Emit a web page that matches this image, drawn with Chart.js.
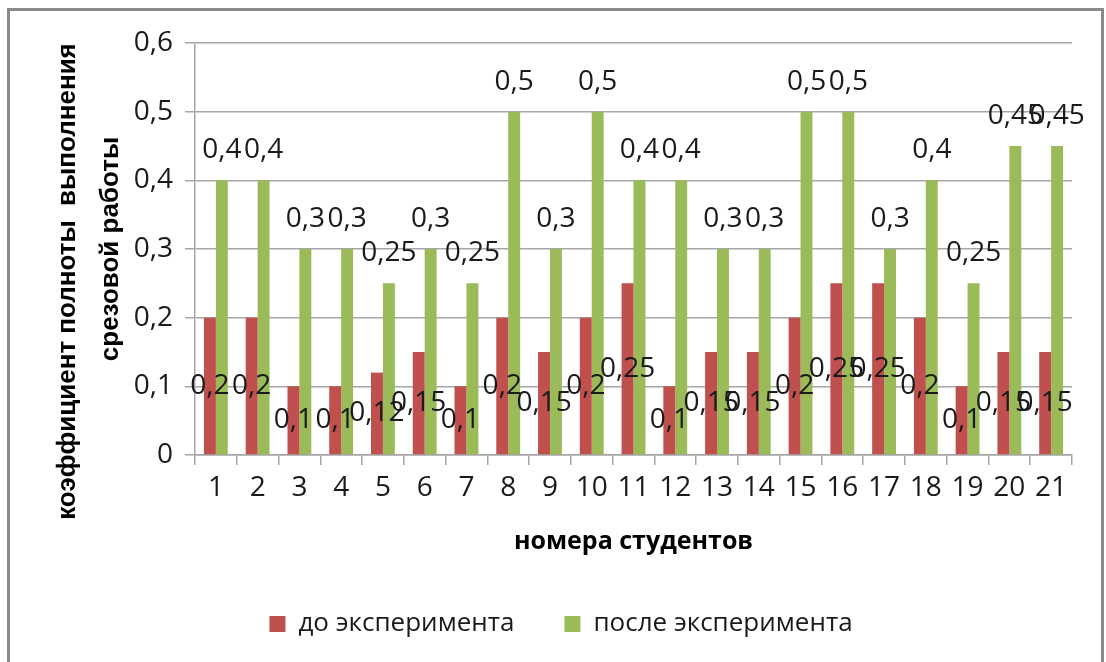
<!DOCTYPE html>
<html lang="ru">
<head>
<meta charset="utf-8">
<title>Коэффициент полноты выполнения срезовой работы</title>
<script src="https://cdn.jsdelivr.net/npm/chart.js@4.4.0/dist/chart.umd.min.js"></script>
<style>
    html, body { margin: 0; padding: 0; background: #fff; overflow: hidden; }
    #frame {
        position: absolute;
        left: 7px; top: 8px;
        width: 1091px; height: 660px;
        border: 3px solid #8a8a8a;
        background: #fff;
    }
    #chart { display: block; }
</style>
</head>
<body>
<div id="frame">
    <canvas id="chart" width="1091" height="651"></canvas>
</div>
<script>
// данные диаграммы
const students = ['1', '2', '3', '4', '5', '6', '7', '8', '9', '10', '11', '12', '13', '14', '15', '16', '17', '18', '19', '20', '21'];
const beforeValues = [0.2, 0.2, 0.1, 0.1, 0.12, 0.15, 0.1, 0.2, 0.15, 0.2, 0.25, 0.1, 0.15, 0.15, 0.2, 0.25, 0.25, 0.2, 0.1, 0.15, 0.15];
const afterValues = [0.4, 0.4, 0.3, 0.3, 0.25, 0.3, 0.25, 0.5, 0.3, 0.5, 0.4, 0.4, 0.3, 0.3, 0.5, 0.5, 0.3, 0.4, 0.25, 0.45, 0.45];
const seriesNames = ['до эксперимента', 'после эксперимента'];
const xTitle = 'номера студентов';
// в оригинале первая строка смещена вниз - хвостовые пробелы дают тот же сдвиг
const yTitle = ['коэффициент полноты  выполнения         ', 'срезовой работы'];

const RED = '#C0504D';
const GREEN = '#9BBB59';
const GRID = '#a6a6a6';
const FONT = "'Open Sans', 'Noto Sans', sans-serif";

function fmt(v) {
    return String(v).replace('.', ',');
}

// подписи значений: красные - в центре столбца, зелёные - над столбцом
const valueLabels = {
    id: 'valueLabels',
    afterDatasetsDraw(chart) {
        const ctx = chart.ctx;
        ctx.save();
        ctx.font = '28px ' + FONT;
        ctx.fillStyle = '#1a1a1a';
        ctx.textAlign = 'center';
        ctx.textBaseline = 'middle';
        chart.data.datasets.forEach((ds, i) => {
            const meta = chart.getDatasetMeta(i);
            meta.data.forEach((bar, j) => {
                const y = i === 0 ? (bar.y + bar.base) / 2 : bar.y - 30;
                ctx.fillText(fmt(ds.data[j]), bar.x, y);
            });
        });
        ctx.restore();
    }
};

const ctx = document.getElementById('chart').getContext('2d');
new Chart(ctx, {
    type: 'bar',
    data: {
        labels: students,
        datasets: [
            { label: seriesNames[0], data: beforeValues, backgroundColor: RED },
            { label: seriesNames[1], data: afterValues, backgroundColor: GREEN }
        ]
    },
    options: {
        responsive: false,
        animation: false,
        // левый отступ сдвигает легенду к центру рамки
        layout: { padding: { top: 32, right: 29, bottom: 15, left: 40 } },
        datasets: {
            bar: { categoryPercentage: 0.571, barPercentage: 1 }
        },
        scales: {
            x: {
                grid: { drawOnChartArea: false, color: GRID, tickLength: 10, lineWidth: 1.5 },
                border: { color: GRID, width: 1.5 },
                ticks: { color: '#1a1a1a', font: { family: FONT, size: 28 }, padding: 6, maxRotation: 0, autoSkip: false },
                title: {
                    display: true, text: xTitle, color: '#000',
                    font: { family: FONT, size: 25, weight: 'bold' },
                    padding: { top: 0, bottom: 4 }
                },
                afterFit(scale) { scale.height = 106; }
            },
            y: {
                min: 0, max: 0.6,
                grid: { color: GRID, tickLength: 10, lineWidth: 1.5 },
                border: { color: GRID, width: 1.5 },
                ticks: {
                    stepSize: 0.1, padding: 12, color: '#1a1a1a',
                    font: { family: FONT, size: 28 },
                    callback: v => fmt(Math.round(v * 10) / 10)
                },
                title: {
                    display: true, text: yTitle, color: '#000',
                    font: { family: "'Liberation Sans', Arial, sans-serif", size: 26, weight: 'bold', lineHeight: 1.65 },
                    padding: { top: -4, bottom: 0 }
                },
                afterFit(scale) { scale.width = 145; }
            }
        },
        plugins: {
            legend: {
                position: 'bottom',
                labels: {
                    boxWidth: 16, boxHeight: 16, padding: 50, color: '#1a1a1a',
                    font: { family: FONT, size: 26 }
                }
            },
            tooltip: { enabled: false }
        }
    },
    plugins: [valueLabels]
});
</script>
</body>
</html>
